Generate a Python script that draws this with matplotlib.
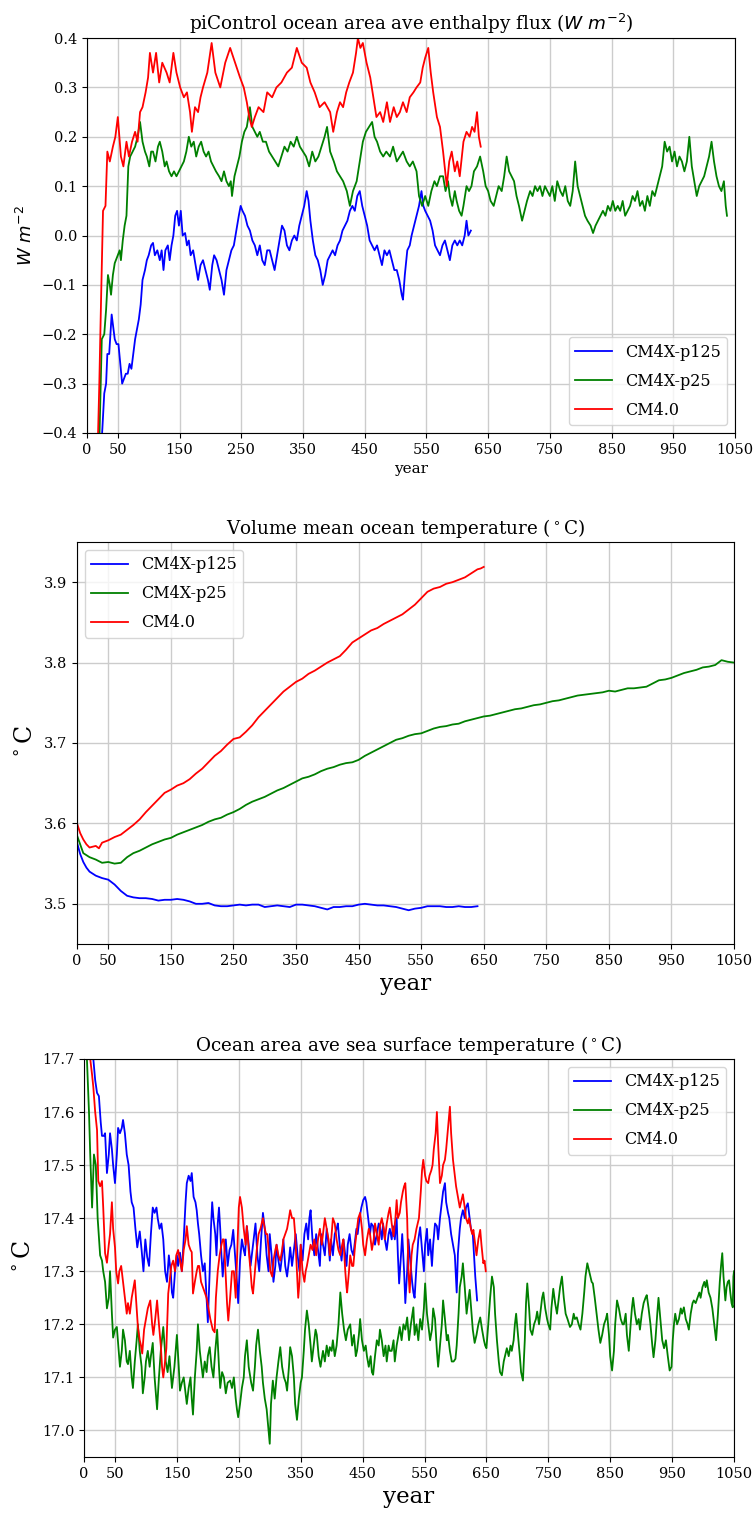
import numpy as np
import matplotlib
matplotlib.use("Agg")
import matplotlib.pyplot as plt

plt.rcParams['font.family'] = ['DejaVu Serif']
plt.rcParams['grid.color'] = '#cccccc'
plt.rcParams['grid.linewidth'] = 1.0

# ---------------- panel 1: enthalpy flux (W m-2) ----------------
flux_p125_yr = [22, 25, 28, 31, 33, 36, 38, 40, 42, 45, 48, 51, 54, 57, 60, 63, 66, 69, 72, 75, 78, 81, 84, 87, 90,
                94, 97, 100, 104, 107, 110, 114, 118, 121, 124, 127, 131, 134, 137, 140, 143, 146, 149, 152, 155,
                159, 162, 165, 168, 172, 176, 180, 184, 188, 192, 196, 199, 203, 206, 210, 214, 218, 222, 226, 230,
                234, 238, 242, 246, 249, 252, 256, 260, 264, 268, 272, 276, 280, 284, 288, 292, 296, 300, 304, 308,
                312, 316, 320, 324, 328, 332, 336, 340, 344, 348, 352, 356, 359, 362, 366, 370, 374, 378, 382, 386,
                390, 394, 398, 402, 406, 410, 414, 418, 422, 426, 430, 434, 438, 442, 446, 450, 454, 458, 462, 466,
                470, 474, 478, 482, 486, 490, 494, 498, 502, 506, 510, 512, 515, 519, 523, 526, 530, 534, 538, 542,
                545, 548, 552, 556, 560, 564, 568, 572, 576, 580, 584, 588, 592, 596, 600, 604, 608, 612, 615, 618, 622]
flux_p125 = [-0.45, -0.39, -0.32, -0.30, -0.24, -0.24, -0.20, -0.16, -0.18, -0.21, -0.22, -0.22, -0.26, -0.30, -0.29,
             -0.28, -0.28, -0.26, -0.27, -0.24, -0.21, -0.19, -0.17, -0.14, -0.09, -0.07, -0.05, -0.04, -0.02, -0.015,
             -0.04, -0.03, -0.05, -0.03, -0.07, -0.03, -0.02, -0.05, -0.02, 0.00, 0.04, 0.05, 0.02, 0.05, 0.00,
             0.005, -0.02, -0.01, -0.04, -0.03, -0.06, -0.09, -0.06, -0.05, -0.07, -0.09, -0.11, -0.06, -0.04, -0.05,
             -0.07, -0.09, -0.12, -0.07, -0.05, -0.03, -0.02, 0.01, 0.04, 0.06, 0.05, 0.04, 0.02, 0.01, -0.01,
             -0.02, -0.04, -0.02, -0.05, -0.06, -0.03, -0.03, -0.05, -0.07, -0.04, -0.01, 0.02, 0.01, -0.02, -0.03,
             -0.01, 0.00, -0.01, 0.02, 0.04, 0.06, 0.09, 0.07, 0.03, -0.01, -0.04, -0.05, -0.07, -0.10, -0.08,
             -0.05, -0.04, -0.03, -0.04, -0.02, -0.01, 0.01, 0.02, 0.03, 0.05, 0.06, 0.05, 0.08, 0.09, 0.06,
             0.04, 0.02, -0.01, -0.02, -0.03, -0.02, -0.04, -0.06, -0.03, -0.04, -0.03, -0.05, -0.07, -0.07, -0.09,
             -0.12, -0.13, -0.08, -0.03, -0.02, 0.00, 0.02, 0.04, 0.06, 0.09, 0.06, 0.05, 0.04, 0.03, 0.01,
             -0.02, -0.03, -0.04, -0.02, -0.01, -0.03, -0.05, -0.02, -0.01, -0.02, -0.01, -0.02, 0.00, 0.03, 0.00, 0.01]

flux_p25_yr = [20, 24, 28, 31, 34, 37, 39, 42, 45, 50, 53, 55, 58, 61, 64, 67, 70, 74, 78, 82, 86, 90, 94, 97, 101,
               104, 107, 111, 115, 118, 122, 126, 129, 133, 137, 141, 145, 149, 153, 157, 161, 165, 169, 173, 177,
               181, 185, 189, 193, 197, 201, 205, 209, 214, 218, 222, 226, 230, 233, 235, 239, 243, 247, 251, 255,
               259, 264, 268, 272, 276, 280, 285, 290, 295, 300, 305, 310, 315, 320, 325, 330, 335, 340, 345, 350,
               355, 360, 365, 370, 375, 380, 385, 389, 394, 400, 405, 410, 415, 421, 426, 431, 437, 442, 447, 452,
               457, 462, 466, 470, 475, 480, 485, 491, 496, 502, 507, 512, 518, 523, 528, 534, 538, 543, 548, 553,
               558, 563, 567, 572, 577, 581, 585, 588, 592, 596, 599, 603, 607, 610, 615, 619, 623, 627, 632, 637,
               642, 646, 650, 654, 659, 663, 667, 672, 676, 680, 684, 688, 692, 696, 700, 705, 709, 713, 718, 722,
               726, 730, 734, 738, 742, 746, 750, 754, 758, 762, 767, 771, 775, 779, 783, 787, 791, 795, 799, 803,
               807, 811, 816, 820, 824, 828, 832, 836, 840, 844, 848, 852, 856, 860, 864, 868, 872, 876, 880, 884,
               888, 892, 896, 900, 904, 908, 912, 916, 920, 924, 928, 932, 936, 940, 944, 948, 952, 956, 960, 964,
               968, 972, 976, 980, 984, 988, 992, 996, 1000, 1004, 1008, 1012, 1016, 1020, 1024, 1028, 1032, 1035, 1037]
flux_p25 = [-0.42, -0.21, -0.20, -0.15, -0.08, -0.10, -0.12, -0.08, -0.056, -0.04, -0.03, -0.05, -0.01, 0.02, 0.04,
            0.14, 0.16, 0.17, 0.18, 0.20, 0.23, 0.19, 0.17, 0.16, 0.14, 0.17, 0.17, 0.15, 0.18, 0.19,
            0.17, 0.14, 0.15, 0.13, 0.12, 0.13, 0.12, 0.13, 0.14, 0.15, 0.17, 0.20, 0.18, 0.19, 0.16,
            0.18, 0.19, 0.17, 0.16, 0.17, 0.15, 0.14, 0.13, 0.12, 0.11, 0.13, 0.11, 0.10, 0.11, 0.08,
            0.12, 0.14, 0.16, 0.19, 0.21, 0.22, 0.26, 0.22, 0.21, 0.20, 0.21, 0.19, 0.19, 0.17, 0.16,
            0.15, 0.14, 0.16, 0.18, 0.17, 0.19, 0.18, 0.20, 0.18, 0.17, 0.16, 0.14, 0.17, 0.15, 0.16,
            0.18, 0.20, 0.22, 0.17, 0.15, 0.13, 0.12, 0.11, 0.09, 0.06, 0.09, 0.11, 0.15, 0.19, 0.21,
            0.22, 0.23, 0.20, 0.19, 0.17, 0.16, 0.17, 0.16, 0.18, 0.15, 0.16, 0.17, 0.15, 0.14, 0.15,
            0.13, 0.08, 0.06, 0.08, 0.06, 0.09, 0.11, 0.10, 0.12, 0.12, 0.09, 0.11, 0.08, 0.06, 0.09,
            0.07, 0.05, 0.04, 0.06, 0.10, 0.09, 0.10, 0.13, 0.14, 0.16, 0.13, 0.10, 0.09, 0.07, 0.06,
            0.08, 0.10, 0.09, 0.12, 0.16, 0.13, 0.12, 0.11, 0.08, 0.06, 0.03, 0.05, 0.07, 0.09, 0.08,
            0.10, 0.09, 0.10, 0.08, 0.10, 0.09, 0.08, 0.10, 0.07, 0.11, 0.09, 0.08, 0.10, 0.07, 0.06,
            0.09, 0.15, 0.10, 0.08, 0.06, 0.04, 0.03, 0.02, 0.005, 0.02, 0.03, 0.04, 0.05, 0.04, 0.06,
            0.05, 0.07, 0.05, 0.06, 0.05, 0.07, 0.04, 0.05, 0.06, 0.08, 0.07, 0.09, 0.06, 0.07, 0.05,
            0.08, 0.06, 0.09, 0.08, 0.10, 0.12, 0.14, 0.19, 0.17, 0.18, 0.15, 0.17, 0.14, 0.16, 0.15,
            0.13, 0.15, 0.20, 0.14, 0.11, 0.08, 0.10, 0.11, 0.12, 0.14, 0.16, 0.19, 0.15, 0.12, 0.10,
            0.09, 0.11, 0.06, 0.04]

flux_cm40_yr = [17, 20, 23, 26, 30, 33, 37, 42, 46, 50, 55, 59, 64, 68, 73, 78, 82, 86, 90, 95, 99, 102, 107, 112,
                117, 122, 129, 134, 140, 145, 151, 157, 162, 167, 170, 175, 180, 184, 188, 195, 202, 208, 216, 224,
                232, 240, 248, 254, 259, 263, 267, 272, 278, 286, 292, 300, 307, 315, 324, 332, 340, 348, 356, 362,
                369, 377, 385, 394, 399, 405, 410, 415, 420, 425, 431, 436, 439, 443, 447, 453, 459, 464, 469, 475,
                480, 486, 491, 497, 502, 507, 512, 518, 523, 529, 534, 540, 544, 548, 553, 557, 561, 567, 572, 577,
                583, 587, 591, 596, 600, 604, 610, 615, 620, 624, 628, 632, 635, 638]
flux_cm40 = [-0.45, -0.30, -0.12, 0.05, 0.06, 0.17, 0.15, 0.18, 0.20, 0.24, 0.16, 0.14, 0.19, 0.16, 0.19, 0.21,
             0.19, 0.25, 0.26, 0.29, 0.32, 0.37, 0.33, 0.37, 0.31, 0.35, 0.33, 0.31, 0.37, 0.33, 0.30, 0.28,
             0.29, 0.25, 0.21, 0.26, 0.25, 0.28, 0.30, 0.33, 0.39, 0.33, 0.30, 0.35, 0.38, 0.35, 0.32, 0.30,
             0.27, 0.24, 0.22, 0.24, 0.26, 0.25, 0.29, 0.28, 0.30, 0.31, 0.33, 0.34, 0.38, 0.35, 0.34, 0.31,
             0.29, 0.26, 0.27, 0.25, 0.21, 0.25, 0.27, 0.26, 0.29, 0.31, 0.33, 0.37, 0.40, 0.38, 0.39, 0.35,
             0.32, 0.28, 0.24, 0.25, 0.23, 0.27, 0.23, 0.26, 0.24, 0.25, 0.27, 0.25, 0.28, 0.29, 0.30, 0.31,
             0.34, 0.36, 0.38, 0.33, 0.29, 0.24, 0.22, 0.17, 0.10, 0.15, 0.17, 0.13, 0.15, 0.12, 0.19, 0.21,
             0.20, 0.22, 0.21, 0.25, 0.20, 0.18]

# ---------------- panel 2: volume mean ocean temperature ----------------
vol_p125_yr = [0, 5, 10, 15, 20, 30, 40, 50, 60, 70, 80, 90, 100, 110, 120, 130, 140, 150, 160, 170, 180, 190, 200,
               210, 220, 230, 240, 250, 260, 270, 280, 290, 300, 310, 320, 330, 340, 350, 360, 370, 380, 390, 400,
               410, 420, 430, 440, 450, 460, 470, 480, 490, 500, 510, 520, 530, 540, 550, 560, 570, 580, 590, 600,
               610, 620, 630, 640]
vol_p125 = [3.576, 3.562, 3.552, 3.545, 3.540, 3.535, 3.532, 3.530, 3.524, 3.516, 3.510, 3.508, 3.507, 3.507, 3.506,
            3.504, 3.505, 3.505, 3.506, 3.505, 3.503, 3.500, 3.500, 3.501, 3.498, 3.497, 3.497, 3.498, 3.499, 3.498,
            3.499, 3.499, 3.496, 3.497, 3.498, 3.497, 3.496, 3.499, 3.499, 3.498, 3.497, 3.495, 3.493, 3.496, 3.496,
            3.497, 3.497, 3.499, 3.500, 3.499, 3.498, 3.498, 3.497, 3.496, 3.494, 3.492, 3.494, 3.495, 3.497, 3.497,
            3.497, 3.496, 3.496, 3.497, 3.496, 3.496, 3.497]

vol_p25_yr = list(range(0, 1051, 10))
vol_p25 = [3.585, 3.563, 3.558, 3.555, 3.551, 3.552, 3.550, 3.551, 3.558, 3.563, 3.566, 3.570, 3.574, 3.577, 3.580,
           3.582, 3.586, 3.589, 3.592, 3.595, 3.598, 3.602, 3.605, 3.607, 3.611, 3.614, 3.618, 3.623, 3.627, 3.630,
           3.633, 3.637, 3.641, 3.644, 3.648, 3.652, 3.656, 3.658, 3.661, 3.665, 3.668, 3.670, 3.673, 3.675, 3.676,
           3.679, 3.684, 3.688, 3.692, 3.696, 3.700, 3.704, 3.706, 3.709, 3.711, 3.712, 3.715, 3.718, 3.720, 3.721,
           3.723, 3.724, 3.727, 3.729, 3.731, 3.733, 3.734, 3.736, 3.738, 3.740, 3.742, 3.743, 3.745, 3.747, 3.748,
           3.750, 3.752, 3.753, 3.755, 3.757, 3.759, 3.760, 3.761, 3.762, 3.763, 3.765, 3.764, 3.766, 3.768, 3.768,
           3.769, 3.770, 3.774, 3.778, 3.779, 3.781, 3.784, 3.787, 3.789, 3.791, 3.794, 3.795, 3.797, 3.803, 3.801,
           3.800]

vol_cm40_yr = [0, 5, 10, 15, 20, 25, 30, 35, 40, 50, 60, 70, 80, 90, 100, 110, 120, 130, 140, 150, 160, 170, 180,
               190, 200, 210, 220, 230, 240, 250, 260, 270, 280, 290, 300, 310, 320, 330, 340, 350, 360, 370, 380,
               390, 400, 410, 420, 430, 440, 450, 460, 470, 480, 490, 500, 510, 520, 530, 540, 550, 560, 570, 580,
               590, 600, 610, 620, 630, 640, 645, 650]
vol_cm40 = [3.600, 3.588, 3.580, 3.574, 3.570, 3.571, 3.572, 3.569, 3.576, 3.579, 3.583, 3.586, 3.592, 3.598, 3.605,
            3.614, 3.622, 3.630, 3.638, 3.642, 3.647, 3.650, 3.655, 3.662, 3.668, 3.676, 3.684, 3.690, 3.698, 3.705,
            3.707, 3.714, 3.722, 3.732, 3.740, 3.748, 3.756, 3.764, 3.770, 3.776, 3.780, 3.786, 3.790, 3.795, 3.800,
            3.804, 3.808, 3.816, 3.825, 3.830, 3.835, 3.840, 3.843, 3.848, 3.852, 3.856, 3.860, 3.866, 3.872, 3.880,
            3.888, 3.892, 3.894, 3.898, 3.900, 3.903, 3.906, 3.911, 3.916, 3.917, 3.919]

# ---------------- panel 3: sea surface temperature ----------------
sst_p125_yr = [12, 15, 18, 21, 24, 27, 29, 32, 34, 37, 40, 42, 45, 47, 50, 53, 55, 58, 61, 63, 66, 69, 72, 75, 77,
               80, 83, 86, 88, 90, 93, 96, 99, 102, 105, 108, 111, 114, 117, 119, 122, 125, 128, 131, 134, 137,
               140, 142, 144, 147, 150, 152, 155, 158, 161, 164, 166, 169, 172, 174, 177, 180, 182, 184, 186, 189,
               192, 195, 198, 200, 203, 205, 207, 209, 212, 214, 216, 218, 220, 222, 224, 226, 229, 232, 235, 238,
               241, 244, 247, 249, 252, 255, 258, 260, 263, 266, 269, 272, 275, 277, 280, 283, 286, 289, 292, 295,
               298, 300, 303, 306, 309, 311, 314, 317, 320, 322, 325, 328, 331, 333, 336, 339, 342, 345, 348, 350,
               353, 356, 359, 362, 364, 366, 369, 372, 375, 378, 381, 383, 386, 389, 392, 395, 397, 399, 402, 405,
               408, 410, 413, 416, 419, 422, 424, 426, 429, 432, 435, 438, 440, 442, 445, 448, 451, 454, 456, 459,
               462, 464, 467, 470, 473, 476, 478, 481, 483, 486, 489, 492, 494, 497, 499, 502, 505, 507, 509, 512,
               514, 517, 519, 522, 524, 527, 530, 532, 534, 537, 540, 543, 546, 549, 551, 554, 556, 559, 562, 564,
               567, 570, 572, 575, 578, 580, 583, 585, 588, 590, 593, 596, 599, 602, 604, 607, 609, 612, 615, 617,
               620, 623, 625, 628, 630, 632, 635]
sst_p125 = [17.80, 17.70, 17.66, 17.636, 17.63, 17.58, 17.555, 17.555, 17.56, 17.485, 17.52, 17.56, 17.53, 17.50,
            17.466, 17.52, 17.57, 17.56, 17.57, 17.585, 17.56, 17.52, 17.50, 17.45, 17.43, 17.42, 17.38, 17.345,
            17.36, 17.375, 17.34, 17.30, 17.36, 17.327, 17.31, 17.37, 17.42, 17.41, 17.42, 17.40, 17.38, 17.39,
            17.36, 17.30, 17.28, 17.33, 17.30, 17.26, 17.25, 17.30, 17.33, 17.31, 17.335, 17.30, 17.36, 17.43,
            17.466, 17.48, 17.47, 17.485, 17.44, 17.43, 17.415, 17.39, 17.37, 17.33, 17.30, 17.315, 17.25, 17.204,
            17.30, 17.38, 17.43, 17.40, 17.37, 17.33, 17.39, 17.42, 17.38, 17.33, 17.29, 17.32, 17.36, 17.31,
            17.34, 17.35, 17.378, 17.33, 17.28, 17.24, 17.32, 17.36, 17.34, 17.33, 17.385, 17.35, 17.31, 17.34,
            17.37, 17.39, 17.33, 17.30, 17.36, 17.41, 17.38, 17.33, 17.30, 17.37, 17.33, 17.28, 17.31, 17.35,
            17.32, 17.30, 17.33, 17.36, 17.31, 17.29, 17.32, 17.345, 17.31, 17.34, 17.37, 17.33, 17.30, 17.35,
            17.32, 17.37, 17.39, 17.36, 17.40, 17.415, 17.36, 17.33, 17.37, 17.34, 17.31, 17.37, 17.35, 17.33,
            17.38, 17.35, 17.32, 17.36, 17.33, 17.37, 17.38, 17.39, 17.35, 17.32, 17.36, 17.33, 17.31, 17.35,
            17.37, 17.34, 17.33, 17.36, 17.38, 17.37, 17.40, 17.42, 17.434, 17.44, 17.43, 17.40, 17.37, 17.39,
            17.385, 17.35, 17.37, 17.39, 17.383, 17.36, 17.39, 17.36, 17.34, 17.37, 17.38, 17.36, 17.385, 17.36,
            17.40, 17.33, 17.277, 17.33, 17.37, 17.30, 17.24, 17.30, 17.36, 17.32, 17.28, 17.26, 17.25, 17.31,
            17.36, 17.383, 17.34, 17.30, 17.35, 17.38, 17.33, 17.36, 17.31, 17.35, 17.39, 17.385, 17.36, 17.40,
            17.43, 17.45, 17.466, 17.43, 17.41, 17.40, 17.37, 17.35, 17.33, 17.26, 17.334, 17.38, 17.40, 17.415,
            17.40, 17.42, 17.428, 17.40, 17.38, 17.37, 17.33, 17.29, 17.245]

sst_p25_yr = [1, 3, 5, 8, 10, 13, 16, 19, 22, 26, 29, 31, 34, 37, 40, 42, 45, 47, 50, 53, 56, 58, 61, 63, 66, 69, 71,
              74, 77, 79, 82, 85, 87, 90, 93, 95, 98, 100, 103, 106, 108, 111, 114, 116, 118, 121, 124, 128, 132,
              135, 138, 142, 146, 150, 153, 155, 158, 161, 164, 166, 169, 172, 174, 176, 179, 182, 184, 187, 190,
              192, 195, 198, 200, 203, 206, 209, 212, 215, 218, 220, 223, 226, 229, 232, 236, 239, 242, 245, 247,
              249, 252, 255, 258, 260, 263, 266, 270, 273, 276, 278, 281, 284, 287, 289, 292, 295, 298, 300, 302,
              305, 308, 311, 314, 317, 320, 323, 326, 328, 331, 333, 336, 339, 341, 344, 347, 350, 352, 355, 357,
              360, 363, 366, 368, 371, 374, 376, 379, 382, 386, 389, 392, 395, 397, 400, 402, 405, 408, 411, 414,
              417, 420, 423, 426, 430, 433, 436, 439, 441, 444, 446, 449, 452, 455, 457, 460, 463, 465, 467, 470,
              473, 476, 478, 481, 484, 487, 489, 492, 494, 497, 500, 502, 505, 508, 510, 513, 516, 519, 522, 525,
              528, 532, 534, 537, 540, 543, 546, 549, 551, 554, 557, 559, 562, 564, 567, 570, 572, 575, 578, 580,
              583, 586, 588, 591, 594, 597, 600, 602, 605, 607, 610, 612, 615, 618, 620, 623, 626, 628, 631, 634,
              637, 640, 643, 646, 648, 650, 653, 656, 659, 662, 664, 667, 670, 672, 675, 678, 680, 683, 686, 689,
              691, 694, 696, 698, 701, 704, 706, 709, 712, 714, 716, 719, 721, 724, 727, 730, 732, 735, 738, 740,
              742, 745, 748, 750, 753, 755, 758, 761, 764, 767, 769, 772, 775, 778, 781, 785, 788, 791, 793, 796,
              799, 802, 805, 808, 810, 813, 816, 818, 820, 822, 825, 828, 831, 834, 837, 840, 843, 845, 848, 850,
              853, 856, 858, 861, 864, 867, 870, 872, 875, 877, 880, 883, 885, 887, 890, 893, 896, 898, 901, 904,
              907, 909, 912, 915, 918, 920, 923, 926, 928, 931, 934, 937, 940, 943, 946, 949, 951, 953, 955, 958,
              961, 964, 966, 969, 972, 975, 977, 980, 983, 985, 988, 991, 994, 996, 999, 1002, 1004, 1006, 1009,
              1012, 1015, 1018, 1021, 1024, 1027, 1029, 1031, 1033, 1036, 1038, 1040, 1042, 1044, 1046, 1048,
              1049, 1050]
sst_p25 = [17.80, 17.75, 17.69, 17.60, 17.52, 17.42, 17.52, 17.50, 17.40, 17.33, 17.32, 17.30, 17.28, 17.23, 17.25,
           17.30, 17.22, 17.175, 17.19, 17.195, 17.15, 17.12, 17.15, 17.19, 17.17, 17.13, 17.125, 17.15, 17.10,
           17.08, 17.13, 17.17, 17.20, 17.15, 17.12, 17.07, 17.10, 17.13, 17.15, 17.12, 17.14, 17.165, 17.10,
           17.07, 17.04, 17.10, 17.15, 17.195, 17.13, 17.11, 17.14, 17.08, 17.12, 17.18, 17.12, 17.075, 17.09,
           17.10, 17.07, 17.05, 17.08, 17.10, 17.06, 17.03, 17.10, 17.15, 17.20, 17.15, 17.12, 17.10, 17.13,
           17.11, 17.14, 17.157, 17.12, 17.10, 17.15, 17.19, 17.12, 17.08, 17.11, 17.10, 17.07, 17.09, 17.094,
           17.08, 17.10, 17.06, 17.04, 17.025, 17.05, 17.08, 17.10, 17.14, 17.17, 17.12, 17.09, 17.075, 17.12,
           17.16, 17.19, 17.15, 17.12, 17.09, 17.06, 17.04, 17.00, 16.975, 17.05, 17.094, 17.06, 17.10, 17.13,
           17.157, 17.12, 17.10, 17.09, 17.075, 17.12, 17.157, 17.14, 17.10, 17.05, 17.02, 17.06, 17.09, 17.10,
           17.15, 17.19, 17.226, 17.20, 17.16, 17.13, 17.16, 17.19, 17.18, 17.14, 17.12, 17.15, 17.13, 17.16,
           17.14, 17.157, 17.15, 17.17, 17.14, 17.16, 17.20, 17.26, 17.22, 17.19, 17.17, 17.19, 17.20, 17.16,
           17.18, 17.14, 17.15, 17.18, 17.21, 17.17, 17.15, 17.16, 17.14, 17.12, 17.14, 17.11, 17.105, 17.14,
           17.17, 17.16, 17.19, 17.17, 17.14, 17.16, 17.13, 17.16, 17.15, 17.15, 17.17, 17.13, 17.16, 17.18,
           17.195, 17.17, 17.20, 17.19, 17.213, 17.17, 17.20, 17.232, 17.18, 17.20, 17.17, 17.21, 17.19, 17.23,
           17.277, 17.22, 17.19, 17.17, 17.19, 17.23, 17.21, 17.15, 17.12, 17.16, 17.20, 17.245, 17.21, 17.17,
           17.18, 17.15, 17.13, 17.13, 17.135, 17.16, 17.22, 17.27, 17.29, 17.315, 17.27, 17.22, 17.24, 17.265,
           17.22, 17.19, 17.165, 17.18, 17.20, 17.213, 17.19, 17.17, 17.16, 17.155, 17.20, 17.25, 17.29, 17.27,
           17.22, 17.17, 17.13, 17.11, 17.104, 17.13, 17.14, 17.155, 17.14, 17.16, 17.15, 17.17, 17.20, 17.22,
           17.18, 17.14, 17.11, 17.094, 17.17, 17.24, 17.277, 17.23, 17.19, 17.18, 17.20, 17.21, 17.224, 17.20,
           17.23, 17.25, 17.26, 17.23, 17.21, 17.20, 17.19, 17.23, 17.267, 17.24, 17.22, 17.25, 17.27, 17.29,
           17.25, 17.22, 17.21, 17.195, 17.20, 17.22, 17.21, 17.213, 17.20, 17.19, 17.22, 17.26, 17.29, 17.315,
           17.30, 17.29, 17.28, 17.277, 17.25, 17.22, 17.19, 17.165, 17.18, 17.20, 17.21, 17.22, 17.18, 17.14,
           17.113, 17.15, 17.20, 17.245, 17.23, 17.21, 17.20, 17.20, 17.22, 17.18, 17.15, 17.20, 17.23, 17.25,
           17.22, 17.20, 17.21, 17.19, 17.22, 17.24, 17.25, 17.255, 17.23, 17.20, 17.16, 17.138, 17.17, 17.22,
           17.25, 17.21, 17.17, 17.155, 17.17, 17.14, 17.113, 17.12, 17.17, 17.20, 17.22, 17.20, 17.21, 17.23,
           17.22, 17.232, 17.21, 17.20, 17.19, 17.22, 17.24, 17.245, 17.24, 17.25, 17.26, 17.25, 17.27, 17.28,
           17.27, 17.283, 17.26, 17.25, 17.23, 17.20, 17.17, 17.22, 17.28, 17.31, 17.334, 17.29, 17.245, 17.27,
           17.28, 17.283, 17.26, 17.24, 17.232, 17.29, 17.30]

sst_cm40_yr = [5, 8, 10, 13, 15, 18, 21, 23, 26, 29, 31, 34, 37, 40, 42, 45, 47, 50, 52, 55, 57, 60, 63, 66, 69, 71,
               74, 77, 80, 82, 85, 87, 90, 92, 94, 97, 100, 103, 107, 110, 112, 115, 118, 121, 124, 126, 128, 130,
               133, 136, 139, 141, 144, 147, 149, 152, 155, 158, 161, 164, 166, 169, 172, 174, 176, 179, 182, 184,
               186, 189, 192, 195, 198, 201, 204, 206, 208, 211, 213, 216, 219, 222, 224, 226, 229, 231, 233, 236,
               239, 242, 245, 248, 250, 252, 255, 258, 261, 263, 266, 269, 271, 273, 276, 279, 282, 285, 287, 289,
               292, 294, 296, 299, 301, 304, 306, 309, 311, 314, 317, 320, 322, 325, 328, 331, 333, 336, 339, 341,
               344, 346, 348, 350, 353, 356, 358, 360, 363, 366, 369, 372, 375, 378, 381, 384, 386, 389, 392, 395,
               397, 400, 402, 405, 408, 411, 414, 417, 419, 422, 424, 425, 428, 430, 433, 435, 438, 441, 443, 446,
               449, 451, 454, 457, 460, 462, 465, 468, 470, 473, 476, 478, 481, 484, 486, 489, 492, 494, 497, 500,
               503, 505, 507, 510, 512, 515, 517, 519, 522, 524, 526, 529, 531, 534, 537, 539, 541, 544, 546, 548,
               551, 553, 556, 558, 561, 563, 565, 568, 570, 572, 575, 578, 580, 583, 585, 588, 591, 593, 596, 599,
               601, 604, 607, 609, 612, 615, 617, 620, 622, 625, 627, 629, 632, 634, 637, 640, 642, 645, 647, 649]
sst_cm40 = [17.85, 17.75, 17.70, 17.67, 17.647, 17.60, 17.566, 17.47, 17.46, 17.47, 17.42, 17.334, 17.316, 17.35,
            17.37, 17.43, 17.38, 17.345, 17.30, 17.277, 17.30, 17.31, 17.28, 17.25, 17.22, 17.24, 17.22, 17.25,
            17.27, 17.283, 17.23, 17.195, 17.17, 17.16, 17.145, 17.19, 17.21, 17.23, 17.245, 17.20, 17.18, 17.21,
            17.245, 17.20, 17.16, 17.12, 17.10, 17.12, 17.155, 17.258, 17.29, 17.31, 17.32, 17.30, 17.33, 17.34,
            17.32, 17.30, 17.34, 17.36, 17.385, 17.35, 17.34, 17.336, 17.258, 17.28, 17.30, 17.31, 17.31, 17.28,
            17.27, 17.26, 17.25, 17.23, 17.21, 17.20, 17.19, 17.185, 17.25, 17.30, 17.33, 17.35, 17.36, 17.36,
            17.29, 17.24, 17.207, 17.25, 17.30, 17.30, 17.25, 17.35, 17.42, 17.44, 17.42, 17.38, 17.35, 17.385,
            17.34, 17.30, 17.27, 17.258, 17.30, 17.34, 17.37, 17.38, 17.39, 17.40, 17.38, 17.37, 17.37, 17.33,
            17.30, 17.29, 17.32, 17.34, 17.35, 17.33, 17.32, 17.34, 17.36, 17.37, 17.38, 17.40, 17.415, 17.40,
            17.40, 17.37, 17.30, 17.25, 17.28, 17.35, 17.30, 17.28, 17.30, 17.31, 17.33, 17.35, 17.34, 17.36,
            17.33, 17.36, 17.38, 17.35, 17.37, 17.40, 17.38, 17.36, 17.33, 17.37, 17.40, 17.39, 17.36, 17.34,
            17.33, 17.35, 17.36, 17.30, 17.27, 17.26, 17.30, 17.33, 17.31, 17.31, 17.35, 17.38, 17.40, 17.41,
            17.38, 17.35, 17.33, 17.36, 17.38, 17.37, 17.34, 17.36, 17.39, 17.37, 17.35, 17.385, 17.40, 17.38,
            17.36, 17.39, 17.41, 17.42, 17.39, 17.366, 17.40, 17.434, 17.40, 17.41, 17.43, 17.45, 17.46, 17.466,
            17.40, 17.30, 17.26, 17.33, 17.35, 17.36, 17.38, 17.39, 17.40, 17.45, 17.49, 17.51, 17.48, 17.47,
            17.466, 17.48, 17.49, 17.50, 17.53, 17.56, 17.60, 17.54, 17.466, 17.48, 17.50, 17.51, 17.53, 17.57,
            17.61, 17.56, 17.51, 17.48, 17.46, 17.44, 17.42, 17.43, 17.445, 17.42, 17.40, 17.39, 17.40, 17.38,
            17.37, 17.378, 17.35, 17.33, 17.36, 17.378, 17.35, 17.315, 17.32, 17.30]

labels = ['CM4X-p125', 'CM4X-p25', 'CM4.0']
colors = ['b', 'g', 'r']
xticks = [0, 50, 150, 250, 350, 450, 550, 650, 750, 850, 950, 1050]

fig = plt.figure(figsize=(7.53, 15.16), dpi=100)


def finish(ax, title, xlab_size, ylab, ylab_size, legend_loc):
    ax.set_xlim(0, 1050)
    ax.set_xticks(xticks)
    ax.grid(True)
    ax.set_title(title, fontsize=13.2)
    ax.set_xlabel('year', fontsize=xlab_size)
    ax.set_ylabel(ylab, fontsize=ylab_size)
    ax.tick_params(labelsize=10.5)
    ax.legend(loc=legend_loc, fontsize=11.5, handlelength=2.3, labelspacing=0.75)


#panel 1
ax1 = fig.add_axes([0.1155, 0.7144, 0.8606, 0.2605])
ax1.plot(flux_p125_yr, flux_p125, color=colors[0], lw=1.3, label=labels[0])
ax1.plot(flux_p25_yr, flux_p25, color=colors[1], lw=1.3, label=labels[1])
ax1.plot(flux_cm40_yr, flux_cm40, color=colors[2], lw=1.3, label=labels[2])
ax1.set_ylim(-0.4, 0.4)
finish(ax1, r'piControl ocean area ave enthalpy flux ($W\ m^{-2}$)', 11, r'$W\ m^{-2}$', 13, 'lower right')

#panel 2
ax2 = fig.add_axes([0.1023, 0.3773, 0.8725, 0.2652])
ax2.plot(vol_p125_yr, vol_p125, color=colors[0], lw=1.3, label=labels[0])
ax2.plot(vol_p25_yr, vol_p25, color=colors[1], lw=1.3, label=labels[1])
ax2.plot(vol_cm40_yr, vol_cm40, color=colors[2], lw=1.3, label=labels[2])
ax2.set_ylim(3.45, 3.95)
ax2.set_yticks([3.5, 3.6, 3.7, 3.8, 3.9])
finish(ax2, r'Volume mean ocean temperature ($^\circ$C)', 16.5, r'$^\circ$C', 17, 'upper left')

#panel 3
ax3 = fig.add_axes([0.1116, 0.0389, 0.8632, 0.2626])
ax3.plot(sst_p125_yr, sst_p125, color=colors[0], lw=1.3, label=labels[0])
ax3.plot(sst_p25_yr, sst_p25, color=colors[1], lw=1.3, label=labels[1])
ax3.plot(sst_cm40_yr, sst_cm40, color=colors[2], lw=1.3, label=labels[2])
ax3.set_ylim(16.95, 17.7)
ax3.set_yticks([17.0, 17.1, 17.2, 17.3, 17.4, 17.5, 17.6, 17.7])
finish(ax3, r'Ocean area ave sea surface temperature ($^\circ$C)', 16.5, r'$^\circ$C', 17, 'upper right')

fig.savefig('out.png', dpi=100)
